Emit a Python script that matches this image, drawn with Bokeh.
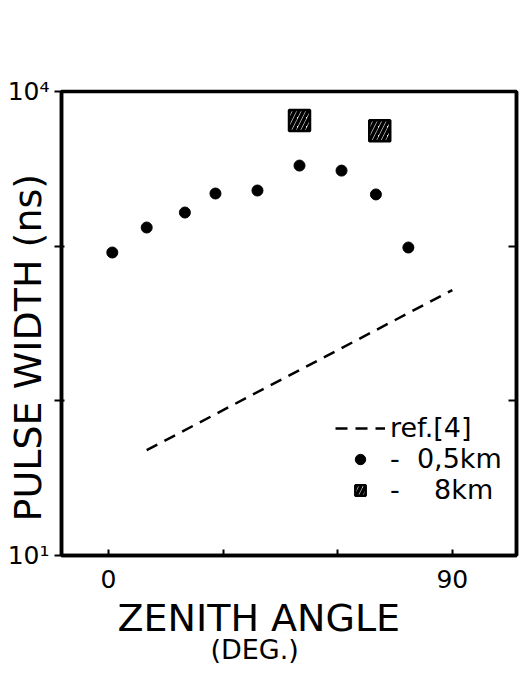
from bokeh.plotting import figure
from bokeh.models import LogAxis, LinearAxis, FixedTicker, Legend, LegendItem
from bokeh.embed import file_html
from bokeh.resources import INLINE

# ---- data ----
angle_05km = [1, 10, 20, 28, 39, 50, 61, 70, 78.5]
width_05km = [910, 1320, 1650, 2190, 2290, 3320, 3080, 2160, 980]

angle_8km = [50, 71]
width_8km = [6490, 5580]

ref_angle = [10, 90]
ref_width = [48, 520]

x_ticks = [0, 30, 60, 90]
x_tick_labels = ["0", "", "", "90"]
y_ticks = [10, 100, 1000, 10000]
y_tick_labels = ["10\u00b9", "", "", "10\u2074"]

x_title = "ZENITH ANGLE"
x_unit = "(DEG.)"
y_title = "PULSE WIDTH (ns)"

FONT = "DejaVu Sans"
NBSP = "\u00a0"
INK = "black"

p = figure(x_range=(-12.3, 106.8), y_range=(10, 10000), y_axis_type="log",
           frame_width=455, frame_height=464,
           min_border_left=61, min_border_top=91, min_border_bottom=0, min_border_right=4,
           output_backend="svg", toolbar_location=None)
p.grid.visible = False
p.outline_line_color = INK
p.outline_line_width = 3.5

# bottom axis
xa = p.xaxis[0]
xa.ticker = FixedTicker(ticks=x_ticks)
xa.major_label_overrides = {t: s for t, s in zip(x_ticks, x_tick_labels)}
xa.axis_line_width = 3.5
xa.axis_line_color = INK
xa.major_tick_line_color = INK
xa.major_tick_in = 6
xa.major_tick_out = 0
xa.major_tick_line_width = 2
xa.minor_tick_line_color = None
xa.major_label_text_font = FONT
xa.major_label_text_color = INK
xa.major_label_text_font_size = "25px"
xa.major_label_standoff = 14
xa.axis_label = x_title + NBSP * 5
xa.axis_label_text_font = FONT
xa.axis_label_text_color = INK
xa.axis_label_text_font_style = "normal"
xa.axis_label_text_font_size = "38px"
xa.axis_label_standoff = 5

# second line of the x title
xa2 = LinearAxis(ticker=FixedTicker(ticks=[]), axis_line_color=None,
                 major_tick_out=0, major_tick_in=0, minor_tick_line_color=None,
                 major_label_standoff=0, axis_label=x_unit + NBSP * 8,
                 axis_label_text_font=FONT, axis_label_text_color=INK,
                 axis_label_text_font_style="normal",
                 axis_label_text_font_size="27px", axis_label_standoff=-9)
p.add_layout(xa2, "below")

# left axis
ya = p.yaxis[0]
ya.ticker = FixedTicker(ticks=y_ticks)
ya.major_label_overrides = {t: s for t, s in zip(y_ticks, y_tick_labels)}
ya.axis_line_width = 3.5
ya.axis_line_color = INK
ya.major_tick_line_color = INK
ya.major_tick_in = 3
ya.major_tick_out = 7
ya.major_tick_line_width = 2
ya.minor_tick_line_color = None
ya.major_label_text_font = FONT
ya.major_label_text_color = INK
ya.major_label_text_font_size = "25px"
ya.major_label_standoff = 5
ya.axis_label = y_title + NBSP * 4
ya.axis_label_text_font = FONT
ya.axis_label_text_color = INK
ya.axis_label_text_font_style = "normal"
ya.axis_label_text_font_size = "38px"
ya.axis_label_standoff = -45

# right axis (ticks only)
ra = LogAxis(ticker=FixedTicker(ticks=y_ticks[1:3]),
             major_label_overrides={t: "" for t in y_ticks},
             axis_line_width=3.5, axis_line_color=INK, major_tick_line_color=INK,
             major_tick_in=8, major_tick_out=0,
             major_tick_line_width=2, minor_tick_line_color=None,
             major_label_standoff=0)
p.add_layout(ra, "right")

# glyphs
r_ref = p.line(ref_angle, ref_width, line_color=INK, line_width=2.5, line_dash="12 8")
r_c = p.scatter(angle_05km, width_05km, marker="circle", size=11,
                fill_color=INK, line_color=INK)
r_s = p.scatter(angle_8km, width_8km, marker="square", size=21,
                fill_color="white", line_color=INK, line_width=2.5,
                hatch_pattern="/", hatch_color=INK, hatch_weight=3.5, hatch_scale=9)

legend = Legend(items=[LegendItem(label="ref.[4]", renderers=[r_ref]),
                       LegendItem(label="-  0,5km", renderers=[r_c]),
                       LegendItem(label="-    8km", renderers=[r_s])],
                location=(274, 50), border_line_color=None, background_fill_alpha=0,
                padding=0, margin=0, spacing=0, glyph_width=50, glyph_height=26,
                label_height=26, label_standoff=5,
                label_text_font=FONT, label_text_color=INK, label_text_font_size="27px")
p.add_layout(legend)

open("out.html", "w").write(file_html(p, INLINE))
